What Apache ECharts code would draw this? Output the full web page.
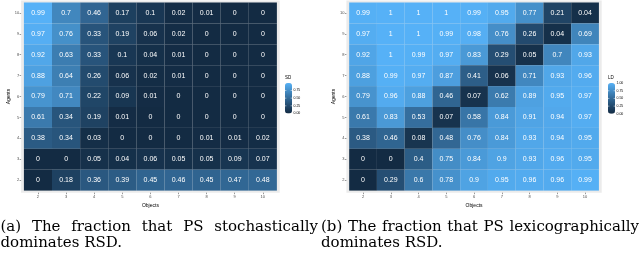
<!DOCTYPE html>
<html><head><meta charset="utf-8">
<script src="https://cdn.jsdelivr.net/npm/echarts@6/dist/echarts.min.js"></script>
<style>html,body{margin:0;padding:0;background:#fff}#c{width:640px;height:260px}</style>
</head><body><div id="c"></div>
<script>
// ---- data ----
const objects = [2, 3, 4, 5, 6, 7, 8, 9, 10];
const agents = [10, 9, 8, 7, 6, 5, 4, 3, 2];
// rows follow `agents` (10 at top), columns follow `objects`
const sdValues = [
  [0.99, 0.7, 0.46, 0.17, 0.1, 0.02, 0.01, 0, 0],
  [0.97, 0.76, 0.33, 0.19, 0.06, 0.02, 0, 0, 0],
  [0.92, 0.63, 0.33, 0.1, 0.04, 0.01, 0, 0, 0],
  [0.88, 0.64, 0.26, 0.06, 0.02, 0.01, 0, 0, 0],
  [0.79, 0.71, 0.22, 0.09, 0.01, 0, 0, 0, 0],
  [0.61, 0.34, 0.19, 0.01, 0, 0, 0, 0, 0],
  [0.38, 0.34, 0.03, 0, 0, 0, 0.01, 0.01, 0.02],
  [0, 0, 0.05, 0.04, 0.06, 0.05, 0.05, 0.09, 0.07],
  [0, 0.18, 0.36, 0.39, 0.45, 0.46, 0.45, 0.47, 0.48]
];
const ldValues = [
  [0.99, 1, 1, 1, 0.99, 0.95, 0.77, 0.21, 0.04],
  [0.97, 1, 1, 0.99, 0.98, 0.76, 0.26, 0.04, 0.69],
  [0.92, 1, 0.99, 0.97, 0.83, 0.29, 0.05, 0.7, 0.93],
  [0.88, 0.99, 0.97, 0.87, 0.41, 0.06, 0.71, 0.93, 0.96],
  [0.79, 0.96, 0.88, 0.46, 0.07, 0.62, 0.89, 0.95, 0.97],
  [0.61, 0.83, 0.53, 0.07, 0.58, 0.84, 0.91, 0.94, 0.97],
  [0.38, 0.46, 0.08, 0.48, 0.76, 0.84, 0.93, 0.94, 0.95],
  [0, 0, 0.4, 0.75, 0.84, 0.9, 0.93, 0.96, 0.95],
  [0, 0.29, 0.6, 0.78, 0.9, 0.95, 0.96, 0.96, 0.99]
];
const legendTicks = [0, 0.25, 0.5, 0.75, 1];
const sdLegendTitle = 'SD';
const ldLegendTitle = 'LD';
const xTitle = 'Objects';
const yTitle = 'Agents';
const captionA = ['(a) The fraction that PS stochastically', 'dominates RSD.'];
const captionB = ['(b) The fraction that PS lexicographically', 'dominates RSD.'];

// ---- helpers ----
const gradient = ['#132B43', '#22496C', '#336A98', '#448DC6', '#56B1F7'];
function toData(rows) {
  const out = [];
  rows.forEach((row, i) => row.forEach((v, j) => out.push([objects[j], agents[i], v])));
  return out;
}
function maxOf(rows) { return Math.max.apply(null, rows.flat()); }

function renderTile(params, api) {
  const x = api.value(0), y = api.value(1);
  const p1 = api.coord([x - 0.5, y + 0.5]);
  const p2 = api.coord([x + 0.5, y - 0.5]);
  const c = api.coord([x, y]);
  return {
    type: 'group',
    children: [
      { type: 'rect', shape: { x: p1[0], y: p1[1], width: p2[0] - p1[0], height: p2[1] - p1[1] },
        style: { fill: api.visual('color') } },
      { type: 'text', x: c[0], y: c[1],
        style: { text: String(api.value(2)), fill: '#ffffff', fontSize: 7,
          fontFamily: 'Liberation Sans', align: 'center', verticalAlign: 'middle' } }
    ]
  };
}

// panel geometry (pixel layout)
const panels = [
  { left: 21.1, width: 258.6, top: 0.4, height: 192.3 },
  { left: 346.4, width: 255.3, top: 0.4, height: 192.3 }
];
const legends = [
  { x: 285, bottom: 113.5, w: 7, unit: 30.7, title: sdLegendTitle, max: maxOf(sdValues) },
  { x: 608, bottom: 113.8, w: 7, unit: 30.7, title: ldLegendTitle, max: maxOf(ldValues) }
];

function axisX(idx) {
  return {
    gridIndex: idx, type: 'value', min: 1.4, max: 10.6,
    axisLine: { show: false },
    axisTick: { show: true, length: 1.5, customValues: objects, lineStyle: { color: '#333', width: 0.5 } },
    axisLabel: { customValues: objects, fontSize: 4, color: '#4D4D4D', margin: 2, fontFamily: 'Liberation Sans' },
    splitLine: { show: false },
    name: xTitle, nameLocation: 'middle', nameGap: 8,
    nameTextStyle: { fontSize: 5, color: '#000', fontFamily: 'Liberation Sans' }
  };
}
function axisY(idx) {
  return {
    gridIndex: idx, type: 'value', min: 1.4, max: 10.6,
    axisLine: { show: false },
    axisTick: { show: true, length: 1.5, customValues: agents, lineStyle: { color: '#333', width: 0.5 } },
    axisLabel: { customValues: agents, fontSize: 4, color: '#4D4D4D', margin: 2, fontFamily: 'Liberation Sans' },
    splitLine: { show: false },
    name: yTitle, nameLocation: 'middle', nameGap: 7,
    nameTextStyle: { fontSize: 5, color: '#000', fontFamily: 'Liberation Sans' }
  };
}

// legend extras (ticks labels, titles)
const graphics = [];
legends.forEach(L => {
  graphics.push({ type: 'text', x: L.x, y: L.bottom - L.max * L.unit - 2.5,
    style: { text: L.title, fontSize: 4.5, fill: '#000', fontFamily: 'Liberation Sans', verticalAlign: 'bottom' } });
  legendTicks.filter(t => t <= L.max + 1e-9).forEach(t => {
    const y = L.bottom - t * L.unit;
    graphics.push({ type: 'text', x: L.x + L.w + 1.5, y: y,
      style: { text: t.toFixed(2), fontSize: 3.5, fill: '#000', fontFamily: 'Liberation Sans', verticalAlign: 'middle' } });
    graphics.push({ type: 'line', z: 10, shape: { x1: L.x, y1: y, x2: L.x + 1.4, y2: y }, style: { stroke: '#fff', lineWidth: 0.5 } });
    graphics.push({ type: 'line', z: 10, shape: { x1: L.x + L.w - 1.4, y1: y, x2: L.x + L.w, y2: y }, style: { stroke: '#fff', lineWidth: 0.5 } });
  });
});

// captions, first line justified
const capFont = '15px "DejaVu Serif"';
const mctx = document.createElement('canvas').getContext('2d');
mctx.font = capFont;
function addCaption(lines, x0, x1) {
  const words = lines[0].split(' ');
  const widths = words.map(w => mctx.measureText(w).width);
  const total = widths.reduce((a, b) => a + b, 0);
  const gap = (x1 - x0 - total) / (words.length - 1);
  let x = x0;
  words.forEach((w, i) => {
    graphics.push({ type: 'text', x: x, y: 227, style: { text: w, font: capFont, fill: '#000', verticalAlign: 'middle' } });
    x += widths[i] + gap;
  });
  graphics.push({ type: 'text', x: x0, y: 243, style: { text: lines[1], font: capFont, fill: '#000', verticalAlign: 'middle' } });
}
addCaption(captionA, 0.5, 318);
addCaption(captionB, 321, 639);

const chart = echarts.init(document.getElementById('c'), null, { renderer: 'canvas' });
chart.setOption({
  animation: false,
  backgroundColor: '#fff',
  grid: panels.map(p => ({ left: p.left, top: p.top, width: p.width, height: p.height,
    show: true, backgroundColor: '#EBEBEB', borderWidth: 0, containLabel: false })),
  xAxis: [axisX(0), axisX(1)],
  yAxis: [axisY(0), axisY(1)],
  visualMap: legends.map((L, i) => ({
    type: 'continuous', seriesIndex: i, dimension: 2, min: 0, max: L.max,
    inRange: { color: gradient }, calculable: false, show: true,
    left: L.x, top: L.bottom - L.max * L.unit, itemWidth: L.w, itemHeight: L.max * L.unit,
    padding: 0, text: null, showLabel: false
  })),
  series: [
    { type: 'custom', xAxisIndex: 0, yAxisIndex: 0, data: toData(sdValues), renderItem: renderTile },
    { type: 'custom', xAxisIndex: 1, yAxisIndex: 1, data: toData(ldValues), renderItem: renderTile }
  ],
  graphic: graphics
});
</script>
</body></html>
